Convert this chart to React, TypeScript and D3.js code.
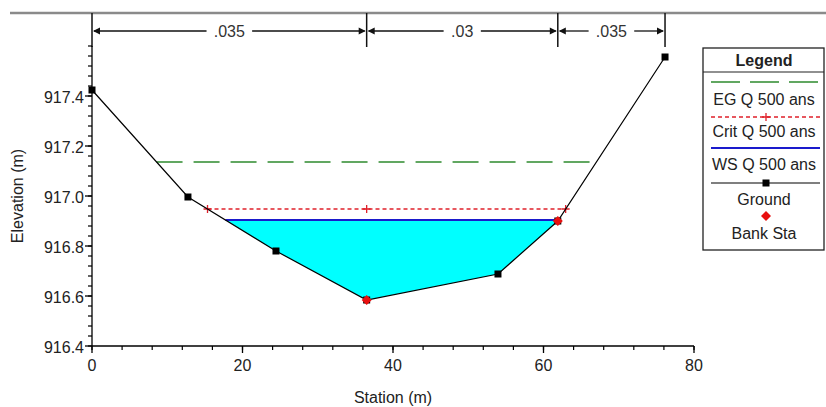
import React from 'react';
import * as d3 from 'd3';

const groundStation = [0, 12.75, 24.45, 36.5, 53.95, 61.9, 76.15];
const groundElev = [917.424, 916.996, 916.78, 916.584, 916.688, 916.9, 917.556];
const bankStations = [36.5, 61.9];
const wsElev = 916.904;
const critElev = 916.948;
const egElev = 917.136;
const critMarkStations = [36.5];
const nStations = [0, 36.5, 61.9, 76.15];
const nValues = ['.035', '.03', '.035'];
const xTicks = [0, 20, 40, 60, 80];
const yTicks = [916.4, 916.6, 916.8, 917.0, 917.2, 917.4];
const legendLabels = ['EG Q 500 ans', 'Crit Q 500 ans', 'WS Q 500 ans', 'Ground', 'Bank Sta'];

const W = 826, H = 407;
const FONT = 'Liberation Sans, Arial, sans-serif';

const x = d3.scaleLinear().domain([0, 80]).range([92, 694]);
const y = d3.scaleLinear().domain([916.4, 917.6]).range([346, 46]);

const pts: [number, number][] = groundStation.map((s, i) => [s, groundElev[i]]);

function groundAt(s: number) {
  for (let i = 0; i < pts.length - 1; i++) {
    const [s0, e0] = pts[i], [s1, e1] = pts[i + 1];
    if (s >= s0 && s <= s1) return e0 + (e1 - e0) * (s - s0) / (s1 - s0);
  }
  return pts[pts.length - 1][1];
}

function crossings(level: number) {
  let left = pts[0][0], right = pts[pts.length - 1][0];
  for (let i = 0; i < pts.length - 1; i++) {
    const [s0, e0] = pts[i], [s1, e1] = pts[i + 1];
    if (e0 >= level && e1 < level) { left = s0 + (s1 - s0) * (e0 - level) / (e0 - e1); break; }
  }
  for (let i = pts.length - 2; i >= 0; i--) {
    const [s0, e0] = pts[i], [s1, e1] = pts[i + 1];
    if (e0 < level && e1 >= level) { right = s0 + (s1 - s0) * (level - e0) / (e1 - e0); break; }
  }
  return [left, right];
}

const diamondPath = (r: number) => `M0,${-r} L${r},0 L0,${r} L${-r},0 Z`;

export default function App() {
  const line = d3.line<[number, number]>().x(d => x(d[0])).y(d => y(d[1]));
  const [wsL, wsR] = crossings(wsElev);
  const [crL, crR] = crossings(critElev);
  const [egL, egR] = crossings(egElev);
  const water: [number, number][] = [[wsL, wsElev], ...pts.filter(p => p[0] > wsL && p[0] < wsR), [wsR, wsElev]];
  const minorX = d3.range(0, 80.001, 4);
  const minorY = d3.range(916.4, 917.6001, 0.04);
  const nY = 31;

  const lx0 = 703, lx1 = 825, lcx = (lx0 + lx1) / 2;
  const sx0 = 711, sx1 = 820;

  return (
    <svg width={W} height={H} style={{ position: 'absolute', left: 0, top: 0, background: '#fff' }}
      fontFamily={FONT}>
      <rect x={0} y={0} width={W} height={H} fill="#fff" />
      {/* top n-value bar */}
      <line x1={10} x2={W} y1={13} y2={13} stroke="#8a8a8a" strokeWidth={2.5} />
      {nStations.map((s, i) => (
        <line key={'nv' + i} x1={x(s)} x2={x(s)} y1={13} y2={47} stroke="#111" strokeWidth={1.5} />
      ))}
      {nValues.map((v, i) => {
        const xa = x(nStations[i]), xb = x(nStations[i + 1]);
        const cx = (xa + xb) / 2;
        const half = v.length * 4.2 + 6;
        return (
          <g key={'n' + i}>
            <line x1={xa + 2} x2={cx - half} y1={nY} y2={nY} stroke="#111" strokeWidth={1.3} />
            <line x1={cx + half} x2={xb - 2} y1={nY} y2={nY} stroke="#111" strokeWidth={1.3} />
            <path d={`M${xa + 1},${nY} L${xa + 8},${nY - 3.5} L${xa + 8},${nY + 3.5} Z`} fill="#111" />
            <path d={`M${xb - 1},${nY} L${xb - 8},${nY - 3.5} L${xb - 8},${nY + 3.5} Z`} fill="#111" />
            <text x={cx} y={nY} dy="0.36em" textAnchor="middle" fontSize={16} fill="#333">{v}</text>
          </g>
        );
      })}

      {/* water */}
      <path d={line(water) + 'Z'} fill="#00ffff" stroke="none" />

      {/* EG */}
      <line x1={x(egL)} x2={x(egR)} y1={y(egElev)} y2={y(egElev)} stroke="#2e8b2e" strokeWidth={1.6} strokeDasharray="26,11" />
      {/* Crit */}
      <line x1={x(crL)} x2={x(crR)} y1={y(critElev)} y2={y(critElev)} stroke="#e0202a" strokeWidth={1.3} strokeDasharray="4,3" />
      {[crL, ...critMarkStations, crR].map((s, i) => (
        <path key={'cm' + i} d={`M${x(s) - 4},${y(critElev)} h8 M${x(s)},${y(critElev) - 4} v8`} stroke="#e0202a" strokeWidth={1.3} />
      ))}
      {/* WS */}
      <line x1={x(wsL)} x2={x(wsR)} y1={y(wsElev)} y2={y(wsElev)} stroke="#1a1acc" strokeWidth={1.8} />

      {/* ground */}
      <path d={line(pts) as string} fill="none" stroke="#000" strokeWidth={1.2} />
      {pts.map((p, i) => (
        <rect key={'g' + i} x={x(p[0]) - 3.5} y={y(p[1]) - 3.5} width={7} height={7} fill="#000" />
      ))}
      {bankStations.map((s, i) => (
        <path key={'b' + i} d={diamondPath(5)} transform={`translate(${x(s)},${y(groundAt(s))})`} fill="#e81010" />
      ))}

      {/* axes */}
      <line x1={92} x2={92} y1={46} y2={346} stroke="#000" strokeWidth={1.3} />
      <line x1={92} x2={694} y1={346} y2={346} stroke="#000" strokeWidth={1.3} />
      {minorY.map((v, i) => (
        <line key={'my' + i} x1={88} x2={92} y1={y(v)} y2={y(v)} stroke="#000" strokeWidth={1.2} />
      ))}
      {yTicks.map((v, i) => (
        <g key={'yt' + i}>
          <line x1={85} x2={92} y1={y(v)} y2={y(v)} stroke="#000" strokeWidth={1.3} />
          <text x={84} y={y(v) + 1} dy="0.36em" textAnchor="end" fontSize={16} fill="#222">{v.toFixed(1)}</text>
        </g>
      ))}
      {minorX.map((v, i) => (
        <line key={'mx' + i} x1={x(v)} x2={x(v)} y1={346} y2={350} stroke="#000" strokeWidth={1.2} />
      ))}
      {xTicks.map((v, i) => (
        <g key={'xt' + i}>
          <line x1={x(v)} x2={x(v)} y1={346} y2={353} stroke="#000" strokeWidth={1.3} />
          <text x={x(v)} y={365} dy="0.36em" textAnchor="middle" fontSize={16} fill="#222">{v}</text>
        </g>
      ))}
      <text x={393} y={397} dy="0.36em" textAnchor="middle" fontSize={16} fill="#222">Station (m)</text>
      <text transform={`translate(17,196) rotate(-90)`} dy="0.36em" textAnchor="middle" fontSize={16} fill="#222">Elevation (m)</text>

      {/* legend */}
      <rect x={lx0} y={48} width={lx1 - lx0 - 1} height={202} fill="#fff" stroke="#222" strokeWidth={1.3} />
      <text x={lcx} y={60} dy="0.36em" textAnchor="middle" fontSize={16} fontWeight="bold" fill="#222">Legend</text>
      <line x1={lx0} x2={lx1 - 1} y1={72} y2={72} stroke="#222" strokeWidth={1.2} />
      <line x1={sx0} x2={sx1} y1={82} y2={82} stroke="#2e8b2e" strokeWidth={1.6} strokeDasharray="29,10" />
      <text x={lcx} y={99} dy="0.36em" textAnchor="middle" fontSize={16} fill="#222">{legendLabels[0]}</text>
      <line x1={sx0} x2={sx1} y1={117} y2={117} stroke="#e0202a" strokeWidth={1.3} strokeDasharray="4,3" />
      <path d={`M${766 - 4},117 h8 M766,113 v8`} stroke="#e0202a" strokeWidth={1.3} />
      <text x={lcx} y={131} dy="0.36em" textAnchor="middle" fontSize={16} fill="#222">{legendLabels[1]}</text>
      <line x1={sx0} x2={sx1} y1={148} y2={148} stroke="#1a1acc" strokeWidth={1.8} />
      <text x={lcx} y={164} dy="0.36em" textAnchor="middle" fontSize={16} fill="#222">{legendLabels[2]}</text>
      <line x1={sx0} x2={sx1} y1={183} y2={183} stroke="#000" strokeWidth={1.2} />
      <rect x={766 - 3.5} y={183 - 3.5} width={7} height={7} fill="#000" />
      <text x={lcx} y={199} dy="0.36em" textAnchor="middle" fontSize={16} fill="#222">{legendLabels[3]}</text>
      <path d={diamondPath(5)} transform="translate(766,216)" fill="#e81010" />
      <text x={lcx} y={233} dy="0.36em" textAnchor="middle" fontSize={16} fill="#222">{legendLabels[4]}</text>
    </svg>
  );
}
